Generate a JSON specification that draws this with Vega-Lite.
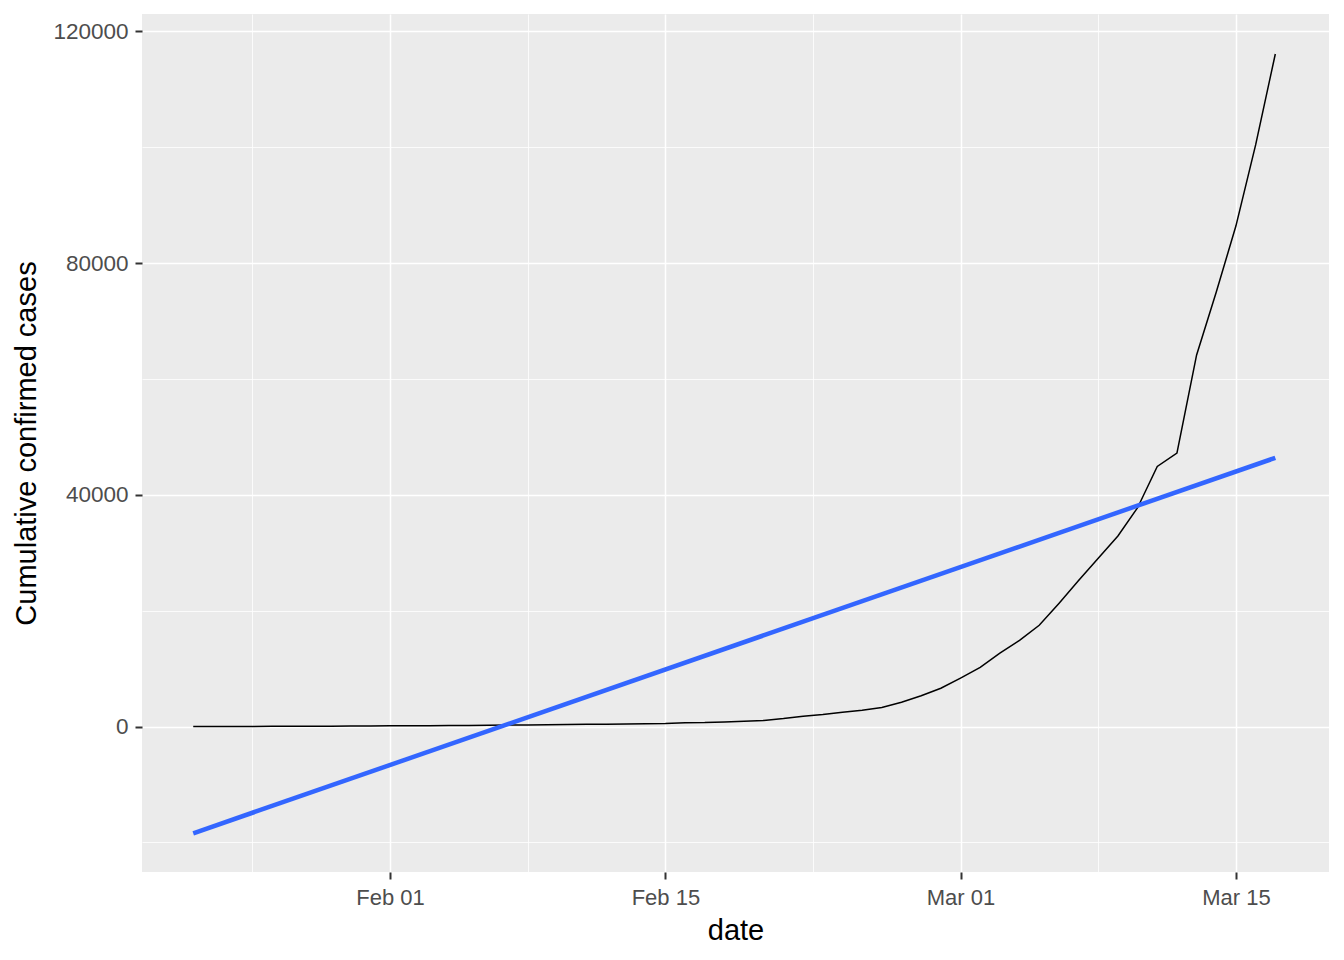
{
  "$schema": "https://vega.github.io/schema/vega-lite/v6.json",
  "width": 1187,
  "height": 858,
  "autosize": {"type": "none"},
  "padding": {"left": 142, "top": 14, "right": 15, "bottom": 88},
  "background": "white",
  "config": {
    "view": {"fill": "#EBEBEB", "stroke": null},
    "font": "Liberation Sans"
  },
  "data": {
    "format": {"parse": {"date": "date"}},
    "values": [
      {"date": "2020/01/22", "cases": 7},
      {"date": "2020/01/23", "cases": 11},
      {"date": "2020/01/24", "cases": 20},
      {"date": "2020/01/25", "cases": 27},
      {"date": "2020/01/26", "cases": 43},
      {"date": "2020/01/27", "cases": 50},
      {"date": "2020/01/28", "cases": 63},
      {"date": "2020/01/29", "cases": 75},
      {"date": "2020/01/30", "cases": 88},
      {"date": "2020/01/31", "cases": 115},
      {"date": "2020/02/01", "cases": 135},
      {"date": "2020/02/02", "cases": 152},
      {"date": "2020/02/03", "cases": 159},
      {"date": "2020/02/04", "cases": 176},
      {"date": "2020/02/05", "cases": 196},
      {"date": "2020/02/06", "cases": 213},
      {"date": "2020/02/07", "cases": 267},
      {"date": "2020/02/08", "cases": 293},
      {"date": "2020/02/09", "cases": 312},
      {"date": "2020/02/10", "cases": 349},
      {"date": "2020/02/11", "cases": 382},
      {"date": "2020/02/12", "cases": 393},
      {"date": "2020/02/13", "cases": 449},
      {"date": "2020/02/14", "cases": 511},
      {"date": "2020/02/15", "cases": 525},
      {"date": "2020/02/16", "cases": 678},
      {"date": "2020/02/17", "cases": 691},
      {"date": "2020/02/18", "cases": 785},
      {"date": "2020/02/19", "cases": 927},
      {"date": "2020/02/20", "cases": 1061},
      {"date": "2020/02/21", "cases": 1381},
      {"date": "2020/02/22", "cases": 1795},
      {"date": "2020/02/23", "cases": 2092},
      {"date": "2020/02/24", "cases": 2495},
      {"date": "2020/02/25", "cases": 2805},
      {"date": "2020/02/26", "cases": 3310},
      {"date": "2020/02/27", "cases": 4200},
      {"date": "2020/02/28", "cases": 5310},
      {"date": "2020/02/29", "cases": 6620},
      {"date": "2020/03/01", "cases": 8367},
      {"date": "2020/03/02", "cases": 10210},
      {"date": "2020/03/03", "cases": 12660},
      {"date": "2020/03/04", "cases": 14880},
      {"date": "2020/03/05", "cases": 17480},
      {"date": "2020/03/06", "cases": 21260},
      {"date": "2020/03/07", "cases": 25200},
      {"date": "2020/03/08", "cases": 29050},
      {"date": "2020/03/09", "cases": 32890},
      {"date": "2020/03/10", "cases": 37780},
      {"date": "2020/03/11", "cases": 44910},
      {"date": "2020/03/12", "cases": 47220},
      {"date": "2020/03/13", "cases": 64150},
      {"date": "2020/03/14", "cases": 75000},
      {"date": "2020/03/15", "cases": 86440},
      {"date": "2020/03/16", "cases": 100400},
      {"date": "2020/03/17", "cases": 116100}
    ]
  },
  "encoding": {
    "x": {
      "field": "date",
      "type": "temporal",
      "scale": {
        "domain": [
          {"year": 2020, "month": 1, "date": 19, "hours": 9, "minutes": 30},
          {"year": 2020, "month": 3, "date": 19, "hours": 17, "minutes": 30}
        ],
        "nice": false
      },
      "axis": {
        "title": "date",
        "values": [
          {"year": 2020, "month": 1, "date": 25},
          {"year": 2020, "month": 2, "date": 1},
          {"year": 2020, "month": 2, "date": 8},
          {"year": 2020, "month": 2, "date": 15},
          {"year": 2020, "month": 2, "date": 22, "hours": 12},
          {"year": 2020, "month": 3, "date": 1},
          {"year": 2020, "month": 3, "date": 8},
          {"year": 2020, "month": 3, "date": 15}
        ],
        "labelExpr": "(hours(datum.value) == 0 && (date(datum.value) == 1 || date(datum.value) == 15)) ? timeFormat(datum.value, '%b %d') : ''",
        "domain": false,
        "grid": true,
        "gridColor": "white",
        "gridWidth": {
          "condition": {"test": "hours(datum.value) == 0 && (date(datum.value) == 1 || date(datum.value) == 15)", "value": 1.5},
          "value": 0.8
        },
        "tickColor": "#333333",
        "tickWidth": 2,
        "tickSize": 7,
        "tickOpacity": {
          "condition": {"test": "hours(datum.value) == 0 && (date(datum.value) == 1 || date(datum.value) == 15)", "value": 1},
          "value": 0
        },
        "labelFontSize": 22,
        "labelColor": "#4D4D4D",
        "labelPadding": 8,
        "labelOverlap": false,
        "labelFlush": false,
        "titleFontSize": 29,
        "titleFontWeight": "normal",
        "titleColor": "black",
        "titlePadding": 8
      }
    },
    "y": {
      "field": "cases",
      "type": "quantitative",
      "scale": {"domain": [-25100, 123000], "nice": false, "zero": false},
      "axis": {
        "title": "Cumulative confirmed cases",
        "values": [-20000, 0, 20000, 40000, 60000, 80000, 100000, 120000],
        "format": "d",
        "labelExpr": "datum.value % 40000 == 0 ? datum.label : ''",
        "domain": false,
        "grid": true,
        "gridColor": "white",
        "gridWidth": {
          "condition": {"test": "datum.value % 40000 == 0", "value": 1.5},
          "value": 0.8
        },
        "tickColor": "#333333",
        "tickWidth": 2,
        "tickSize": 7,
        "tickOpacity": {
          "condition": {"test": "datum.value % 40000 == 0", "value": 1},
          "value": 0
        },
        "labelFontSize": 22.5,
        "labelColor": "#4D4D4D",
        "labelPadding": 7,
        "labelOverlap": false,
        "labelFlush": false,
        "titleFontSize": 29,
        "titleFontWeight": "normal",
        "titleColor": "black",
        "titlePadding": 11
      }
    }
  },
  "layer": [
    {
      "mark": {"type": "line", "color": "black", "strokeWidth": 1.5}
    },
    {
      "transform": [{"regression": "cases", "on": "date"}],
      "mark": {"type": "line", "color": "#3366FF", "strokeWidth": 4.5}
    }
  ]
}
